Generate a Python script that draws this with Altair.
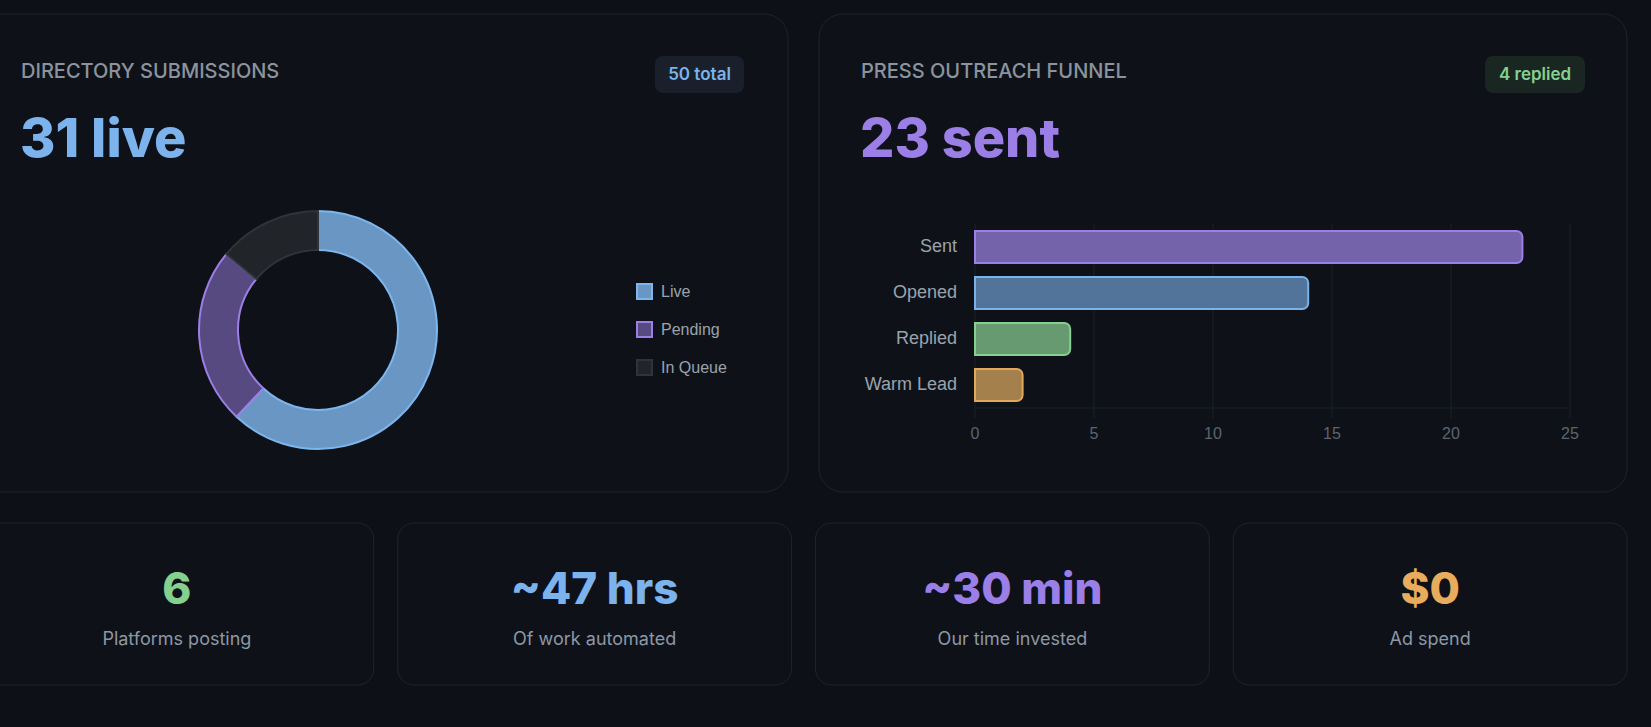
import altair as alt
import pandas as pd

W, H = 1651, 727
BG = "#0d1117"
CARD_FILL = "#0e1218"
CARD_STROKE = "#1f242b"

# ---- data ----
card_titles = ["DIRECTORY SUBMISSIONS", "PRESS OUTREACH FUNNEL"]
headlines = ["31 live", "23 sent"]
badges = ["50 total", "4 replied"]

dir_cats = ["Live", "Pending", "In Queue"]
dir_vals = [31, 12, 7]
dir_fill = ["#6a96c4", "#574a80", "#212429"]
dir_stroke = ["#7cb6ee", "#9b7fe6", "#30343a"]

stages = ["Sent", "Opened", "Replied", "Warm Lead"]
stage_vals = [23, 14, 4, 2]
stage_fill = ["#7462aa", "#52739a", "#679a70", "#a4804c"]
stage_stroke = ["#9c80e8", "#7ab3ec", "#85d08f", "#e2a85a"]
x_ticks = [0, 5, 10, 15, 20, 25]

kpi_values = ["6", "~47 hrs", "~30 min", "$0"]
kpi_labels = ["Platforms posting", "Of work automated", "Our time invested", "Ad spend"]
kpi_colors = ["#85d08f", "#7cb3ec", "#9b7fe6", "#e8ac5c"]

one = pd.DataFrame({"k": [0]})


def card(x1, x2, y1, y2, r=20):
    return alt.Chart(one).mark_rect(
        fill=CARD_FILL, stroke=CARD_STROKE, strokeWidth=1, cornerRadius=r
    ).encode(x=alt.value(x1), x2=alt.value(x2), y=alt.value(y1), y2=alt.value(y2))


def text(s, x, y, **kw):
    return alt.Chart(pd.DataFrame({"t": [s]})).mark_text(**kw).encode(
        text="t:N", x=alt.value(x), y=alt.value(y)
    )


def badge(x1, x2, y1, y2, fill):
    return alt.Chart(one).mark_rect(fill=fill, cornerRadius=8).encode(
        x=alt.value(x1), x2=alt.value(x2), y=alt.value(y1), y2=alt.value(y2)
    )


# ---- top cards ----
top = [
    card(-20, 788, 14, 492, 24),
    card(819, 1627, 14, 492, 24),
    text(card_titles[0], 21, 72, font="Inter", fontSize=20, fontWeight=500,
         color="#8b949e", align="left", baseline="middle"),
    text(card_titles[1], 861, 72, font="Inter", fontSize=20, fontWeight=500,
         color="#8b949e", align="left", baseline="middle"),
    text(headlines[0], 20, 157, font="Inter", fontSize=54, fontWeight=800,
         color="#7cb3ec", align="left", baseline="alphabetic"),
    text(headlines[1], 860, 157, font="Inter", fontSize=54, fontWeight=800,
         color="#9b7fe6", align="left", baseline="alphabetic"),
    badge(655, 744, 56, 93, "#19202b"),
    text(badges[0], 699.5, 75, font="Inter", fontSize=17, fontWeight=600,
         color="#7cb3ec", align="center", baseline="middle"),
    badge(1485, 1585, 56, 93, "#1a2621"),
    text(badges[1], 1535, 75, font="Inter", fontSize=17, fontWeight=600,
         color="#85d08f", align="center", baseline="middle"),
]

# ---- donut ----
dir_df = pd.DataFrame({"cat": dir_cats, "val": dir_vals, "idx": list(range(len(dir_cats)))})
leg = alt.Legend(
    orient="none", legendX=636, legendY=283, title=None, symbolType="square",
    symbolSize=225, symbolStrokeWidth=2, labelFont="Liberation Sans", labelFontSize=16,
    labelColor="#9aa3ad", rowPadding=15, labelOffset=8, padding=0,
)
donut = alt.Chart(dir_df).mark_arc(radius=119, radius2=80, strokeWidth=2).encode(
    theta=alt.Theta("val:Q", stack=True),
    order=alt.Order("idx:Q"),
    fill=alt.Fill("cat:N", scale=alt.Scale(domain=dir_cats, range=dir_fill), legend=leg),
    stroke=alt.Stroke("cat:N", scale=alt.Scale(domain=dir_cats, range=dir_stroke), legend=leg),
    x=alt.value(318),
    y=alt.value(330),
)

# ---- funnel bars ----
xs = alt.Scale(domain=[0, 25], range=[975, 1570], nice=False)
ys = alt.Scale(domain=stages, range=[224, 408], paddingInner=0.3, paddingOuter=0.15)
tick_df = pd.DataFrame({"v": x_ticks})
bar_df = pd.DataFrame({"stage": stages, "n": stage_vals})

grid = alt.Chart(tick_df).mark_rule(color="#1b1f26", strokeWidth=1).encode(
    x=alt.X("v:Q", scale=xs, axis=None), y=alt.value(224), y2=alt.value(418)
)
base_line = alt.Chart(one).mark_rule(color="#1b1f26", strokeWidth=1).encode(
    x=alt.value(975), x2=alt.value(1570), y=alt.value(408)
)
bars = alt.Chart(bar_df).mark_bar(strokeWidth=2, cornerRadiusEnd=6).encode(
    x=alt.X("n:Q", scale=xs, axis=None, stack=None),
    y=alt.Y("stage:N", scale=ys, axis=None),
    fill=alt.Fill("stage:N", scale=alt.Scale(domain=stages, range=stage_fill), legend=None),
    stroke=alt.Stroke("stage:N", scale=alt.Scale(domain=stages, range=stage_stroke), legend=None),
)
ylab = alt.Chart(bar_df).mark_text(
    font="Liberation Sans", fontSize=18, color="#9aa3ad", align="right", baseline="middle"
).encode(y=alt.Y("stage:N", scale=ys, axis=None), x=alt.value(957), text="stage:N")
xlab = alt.Chart(tick_df).mark_text(
    font="Liberation Sans", fontSize=16, color="#5c646e", align="center", baseline="middle"
).encode(x=alt.X("v:Q", scale=xs, axis=None), y=alt.value(434), text="v:Q")
funnel = alt.layer(grid, base_line, bars, ylab, xlab)

# ---- KPI cards ----
kpi_df = pd.DataFrame({"label": kpi_labels, "value": kpi_values})
ks = alt.Scale(domain=kpi_labels, range=[-20, 1627], paddingInner=0.0575, paddingOuter=0)
kcards = alt.Chart(kpi_df).mark_rect(
    fill=CARD_FILL, stroke=CARD_STROKE, strokeWidth=1, cornerRadius=16
).encode(x=alt.X("label:N", scale=ks, axis=None), y=alt.value(523), y2=alt.value(685))
kvals = alt.Chart(kpi_df).mark_text(
    font="Inter", fontSize=44, fontWeight=800, baseline="alphabetic", align="center"
).encode(
    x=alt.X("label:N", scale=ks, axis=None),
    y=alt.value(604),
    text="value:N",
    color=alt.Color("label:N", scale=alt.Scale(domain=kpi_labels, range=kpi_colors), legend=None),
)
klabs = alt.Chart(kpi_df).mark_text(
    font="Inter", fontSize=18, fontWeight=400, color="#8d97a6", baseline="middle", align="center"
).encode(x=alt.X("label:N", scale=ks, axis=None), y=alt.value(640), text="label:N")
kpi = alt.layer(kcards, kvals, klabs)

chart = alt.layer(*top, donut, funnel, kpi).resolve_scale(
    x="independent", y="independent",
    fill="independent", stroke="independent", color="independent",
).properties(
    width=W, height=H, padding=0, autosize=alt.AutoSizeParams(type="none"),
    background=BG,
).configure_view(stroke=None)

chart.save("out.html", embed_options={"renderer": "svg", "actions": False})
